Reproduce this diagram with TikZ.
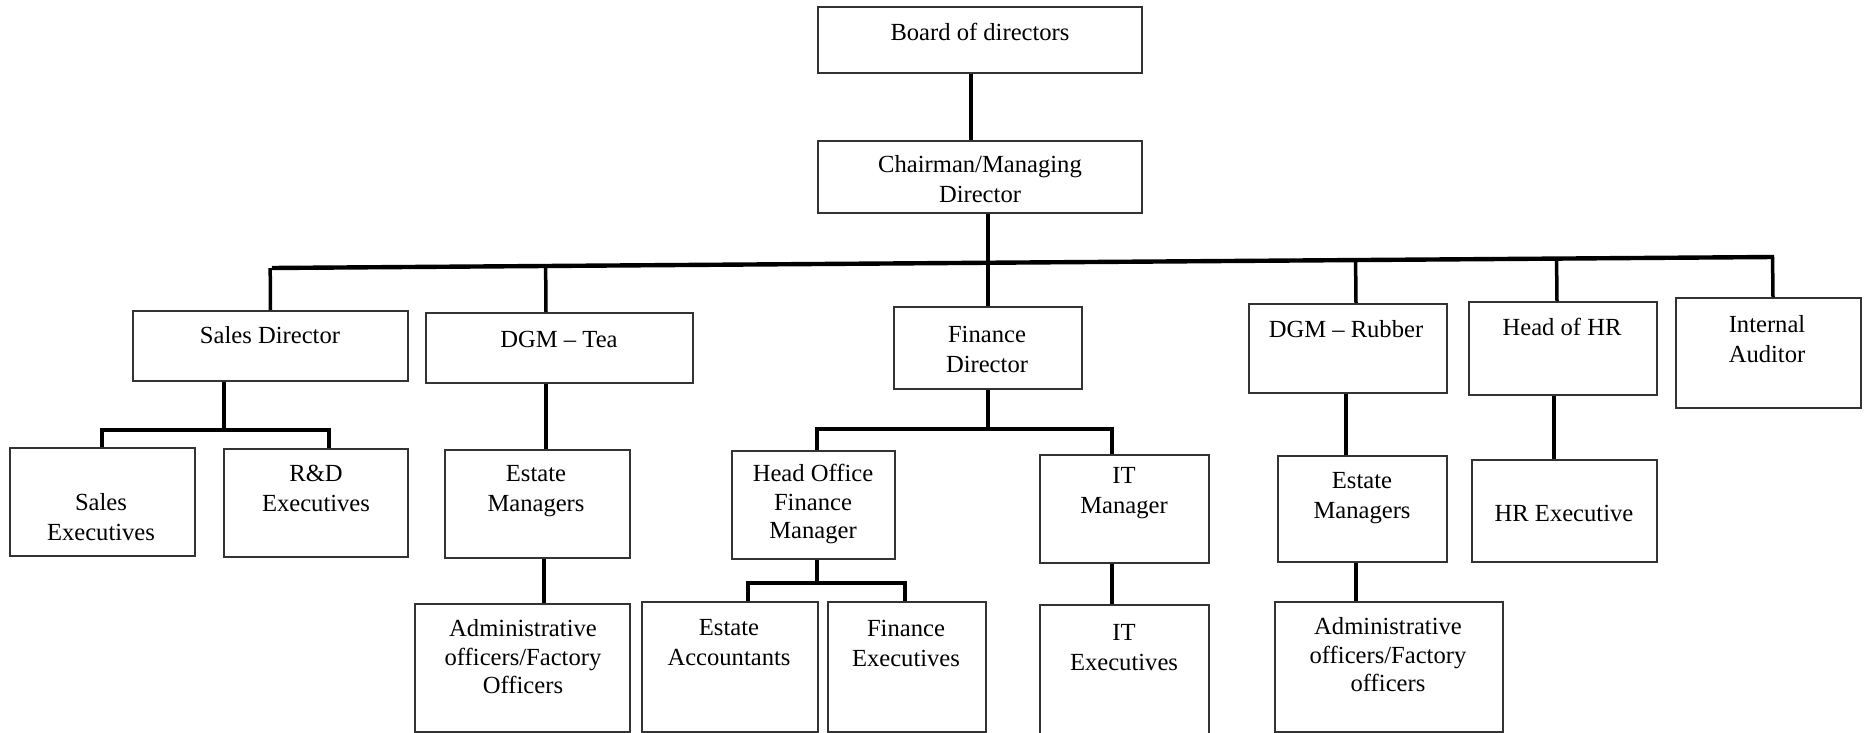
\documentclass[tikz,border=0pt]{standalone}
\usepackage{fontspec}
\setmainfont{Liberation Serif}
\usetikzlibrary{calc}
\begin{document}
\begin{tikzpicture}[x=0.5pt,y=-0.5pt,
  bx/.style={draw=black!80, line width=0.8pt, inner sep=0pt, rectangle},
  txt/.style={align=center, inner sep=0pt, font=\fontsize{12.3}{15}\selectfont},
  txtthree/.style={txt, font=\fontsize{12.3}{14.25}\selectfont},
  conn/.style={line width=1.75pt, line join=miter},
  bus/.style={line width=2.2pt}]
\useasboundingbox (0,0) rectangle (1865,733);
\clip (0,0) rectangle (1865,733);
\fill[white] (0,0) rectangle (1865,733);

% boxes
\node[bx, minimum width=162pt, minimum height=33pt] (board) at (980,40) {};
\node[bx, minimum width=162pt, minimum height=36pt] (chair) at (980,177) {};
\node[bx, minimum width=137.5pt, minimum height=35pt] (sales) at (270.5,346) {};
\node[bx, minimum width=133.5pt, minimum height=35pt] (dgmtea) at (559.5,348) {};
\node[bx, minimum width=94pt, minimum height=41pt] (findir) at (988,348) {};
\node[bx, minimum width=99pt, minimum height=44.5pt] (dgmrub) at (1348,348.5) {};
\node[bx, minimum width=94pt, minimum height=46.5pt] (hr) at (1563,348.5) {};
\node[bx, minimum width=92.5pt, minimum height=55pt] (audit) at (1768.5,353) {};
\node[bx, minimum width=92.5pt, minimum height=54pt] (salesex) at (102.5,502) {};
\node[bx, minimum width=92pt, minimum height=54pt] (rnd) at (316,503) {};
\node[bx, minimum width=92.5pt, minimum height=54pt] (estT) at (537.5,504) {};
\node[bx, minimum width=81.5pt, minimum height=54pt] (hofm) at (813.5,505) {};
\node[bx, minimum width=84.5pt, minimum height=54pt] (itm) at (1124.5,509) {};
\node[bx, minimum width=84.5pt, minimum height=53pt] (estR) at (1362.5,509) {};
\node[bx, minimum width=92.5pt, minimum height=51pt] (hrex) at (1564.5,511) {};
\node[bx, minimum width=107.5pt, minimum height=64pt] (admT) at (522.5,668) {};
\node[bx, minimum width=88pt, minimum height=65pt] (estAcc) at (730,667) {};
\node[bx, minimum width=79pt, minimum height=65pt] (finEx) at (907,667) {};
\node[bx, minimum width=84.5pt, minimum height=70pt] (itEx) at (1124.5,675) {};
\node[bx, minimum width=114pt, minimum height=65pt] (admR) at (1389,667) {};

% texts
\node[txt] (board-t) at (980,32) {Board of directors};
\node[txt] (chair-t) at (980,179.5) {Chairman/Managing\\Director};
\node[txt] (sales-t) at (270,335) {Sales Director};
\node[txt] (dgmtea-t) at (559,339) {DGM – Tea};
\node[txt] (findir-t) at (987,349) {Finance\\Director};
\node[txt] (dgmrub-t) at (1346,329) {DGM – Rubber};
\node[txt] (hr-t) at (1562,327) {Head of HR};
\node[txt] (audit-t) at (1767,339) {Internal\\Auditor};
\node[txt] (salesex-t) at (101,517) {Sales\\Executives};
\node[txt] (rnd-t) at (316,488) {R\&D\\Executives};
\node[txt] (estT-t) at (536,491) {Estate\\Managers};
\node[txtthree] (hofm-t) at (813,504) {Head Office\\Finance\\Manager};
\node[txt] (itm-t) at (1124,493.5) {IT\\Manager};
\node[txt] (estR-t) at (1362,498) {Estate\\Managers};
\node[txt] (hrex-t) at (1564,513) {HR Executive};
\node[txtthree] (admT-t) at (523,657) {Administrative\\officers/Factory\\Officers};
\node[txt] (estAcc-t) at (729,643) {Estate\\Accountants};
\node[txt] (finEx-t) at (906,643) {Finance\\Executives};
\node[txt] (itEx-t) at (1124,648) {IT\\Executives};
\node[txtthree] (admR-t) at (1388,655) {Administrative\\officers/Factory\\officers};

% connectors: top
\draw[conn] ([xshift=-4.5pt]board.south) -- ([xshift=-4.5pt]chair.north);
\coordinate (b1) at (272,268);
\coordinate (b2) at (1774,257);
\draw[bus] (b1) -- (b2);
\draw[conn] (findir.north) -- (findir.north |- chair.south);

\coordinate (dT) at ([xshift=-6.75pt]dgmtea.north);
\coordinate (dR) at ([xshift=4pt]dgmrub.north);
\coordinate (dH) at ([xshift=-3pt]hr.north);
\coordinate (dA) at ([xshift=2.25pt]audit.north);
\draw[conn] (sales.north) -- ($(b1)!(sales.north)!(b2)$);
\draw[conn] (dT) -- ($(b1)!(dT)!(b2)$);
\draw[conn] (dR) -- ($(b1)!(dR)!(b2)$);
\draw[conn] (dH) -- ($(b1)!(dH)!(b2)$);
\draw[conn] (dA) -- ($(b1)!(dA)!(b2)$);

% sales sub-tree
\coordinate (sd) at ([xshift=-23.25pt]sales.south);
\coordinate (sb1) at (102,430);
\coordinate (sb2) at (329,430);
\draw[conn] (sd) -- (sd |- sb1);
\draw[conn] (salesex.north -| sb1) -- (sb1) -- (sb2) -- (rnd.north -| sb2);

% DGM tea sub-tree
\coordinate (eT) at (544,0);
\draw[conn] (dT |- dgmtea.south) -- (dT |- estT.north);
\draw[conn] (eT |- estT.south) -- (eT |- admT.north);

% finance sub-tree
\coordinate (fb1) at (817,429);
\coordinate (fb2) at (1112,429);
\draw[conn] (findir.south) -- (findir.south |- fb1);
\draw[conn] (hofm.north -| fb1) -- (fb1) -- (fb2) -- (itm.north -| fb2);
\coordinate (hb1) at (748,583);
\coordinate (hb2) at (905,583);
\draw[conn] (fb1 |- hofm.south) -- (fb1 |- hb1);
\draw[conn] (estAcc.north -| hb1) -- (hb1) -- (hb2) -- (finEx.north -| hb2);
\draw[conn] (fb2 |- itm.south) -- (fb2 |- itEx.north);

% rubber and HR sub-trees
\coordinate (rR) at (1346,0);
\coordinate (hH) at (1554,0);
\draw[conn] (rR |- dgmrub.south) -- (rR |- estR.north);
\draw[conn] (dR |- estR.south) -- (dR |- admR.north);
\draw[conn] (hH |- hr.south) -- (hH |- hrex.north);
\end{tikzpicture}
\end{document}
